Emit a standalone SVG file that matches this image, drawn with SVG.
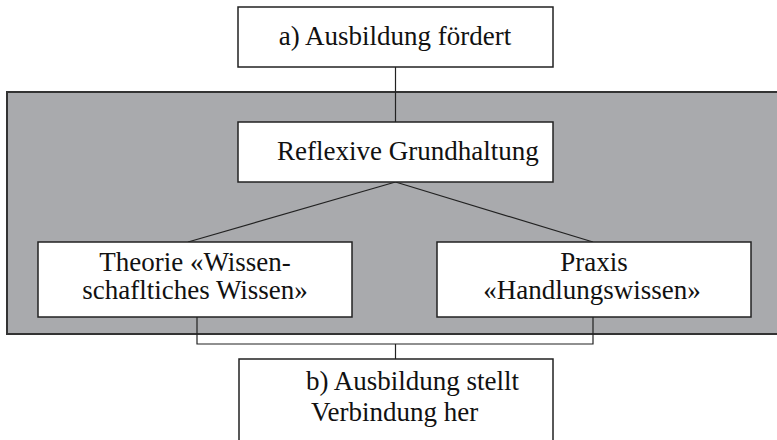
<svg xmlns="http://www.w3.org/2000/svg" width="777" height="440" viewBox="0 0 777 440">
<style>
.box{fill:#fff;stroke:#222;stroke-width:1.5}
.t{font-family:'Liberation Serif','DejaVu Serif',serif;font-size:27px;fill:#111}
.c{text-anchor:middle}
.ln{stroke:#222;stroke-width:1.2;fill:none}
</style>
<rect id="panel" x="7" y="92" width="800" height="242" fill="#a9aaad" stroke="#333" stroke-width="2"/>
<g id="connectors">
<line class="ln" x1="395.5" y1="67" x2="395.5" y2="122"/>
<line class="ln" x1="395.5" y1="182" x2="188" y2="242"/>
<line class="ln" x1="395.5" y1="182" x2="593" y2="242"/>
<polyline class="ln" points="197,317 197,344 593,344 593,317"/>
<line class="ln" x1="395.5" y1="344" x2="395.5" y2="359"/>
</g>
<g id="node-a">
<rect class="box" x="238" y="7" width="315" height="60"/>
<text class="t c" x="395" y="45">a) Ausbildung fördert</text>
</g>
<g id="node-reflexive">
<rect class="box" x="238" y="122" width="315" height="60"/>
<text class="t" x="277" y="160">Reflexive Grundhaltung</text>
</g>
<g id="node-theorie">
<rect class="box" x="38" y="242" width="314" height="75"/>
<text class="t c" x="195" y="271">Theorie «Wissen-</text>
<text class="t c" x="195" y="299">schafltiches Wissen»</text>
</g>
<g id="node-praxis">
<rect class="box" x="437" y="242" width="314" height="75"/>
<text class="t c" x="594" y="271">Praxis</text>
<text class="t c" x="592" y="299">«Handlungswissen»</text>
</g>
<g id="node-b">
<rect class="box" x="239" y="359" width="314" height="100"/>
<text class="t" x="306" y="390">b) Ausbildung stellt</text>
<text class="t" x="311" y="421">Verbindung her</text>
</g>
</svg>
